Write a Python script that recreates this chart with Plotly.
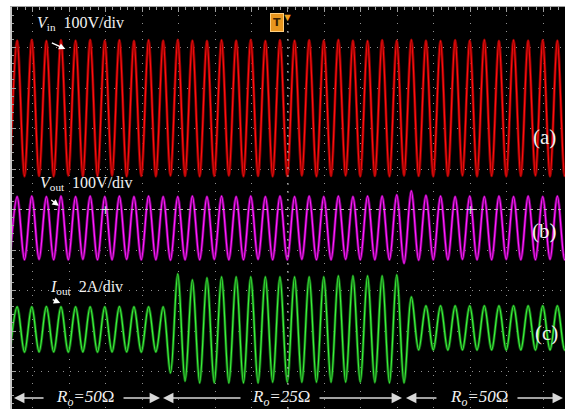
import plotly.graph_objects as go

# ---------------- data ----------------
# time of each waveform extremum, ms (trigger at 0 ms, 50 ms/div)
t_ms = [-381, -371, -361, -351, -341, -331, -321, -311, -301, -291,
        -281, -271, -261, -251, -241, -231, -221, -211, -201, -191,
        -181, -171, -161, -151, -141, -131, -121, -111, -101, -91,
        -81, -71, -61, -51, -41, -31, -21, -11, -1, 9,
        19, 29, 39, 49, 59, 69, 79, 89, 99, 109,
        119, 129, 139, 149, 159, 169, 179, 189, 199, 209,
        219, 229, 239, 249, 259, 269, 279, 289, 299, 309,
        319, 329, 339, 349, 359, 369, 379, 389]

# (a) input voltage, V (100 V/div)
v_in = [-166, 167, -168, 169, -167, 166, -168, 168, -166, 167,
        -168, 169, -167, 167, -166, 168, -168, 166, -167, 168,
        -168, 167, -166, 169, -167, 167, -168, 166, -167, 168,
        -166, 167, -168, 169, -167, 166, -168, 168, -167, 167,
        -166, 168, -168, 167, -167, 169, -166, 167, -168, 166,
        -167, 168, -168, 167, -166, 169, -167, 167, -168, 166,
        -167, 168, -166, 167, -168, 169, -167, 166, -168, 168,
        -167, 167, -166, 168, -168, 167, -167, 168]

# (b) output voltage, V (100 V/div)
v_out = [-79, 77, -79, 78, -78, 77, -79, 78, -79, 77,
         -78, 78, -79, 77, -79, 78, -78, 77, -79, 78,
         -79, 77, -80, 77, -79, 78, -79, 77, -78, 78,
         -79, 77, -79, 78, -78, 77, -79, 78, -79, 77,
         -78, 78, -79, 77, -79, 78, -78, 77, -79, 78,
         -79, 78, -79, 81, -88, 91, -80, 80, -79, 78,
         -79, 77, -78, 78, -79, 77, -79, 78, -78, 77,
         -79, 78, -79, 77, -78, 78, -79, 77]

# (c) output current, A (2 A/div); load steps 50 ohm -> 25 ohm -> 50 ohm
i_out = [-1.11, 1.11, -1.12, 1.11, -1.11, 1.12, -1.11, 1.11, -1.12, 1.11,
         -1.11, 1.11, -1.12, 1.11, -1.11, 1.12, -1.11, 1.11, -1.12, 1.11,
         -1.11, 1.11, -2.15, 2.74, -2.55, 2.44, -2.64, 2.54, -2.64, 2.59,
         -2.64, 2.59, -2.64, 2.59, -2.64, 2.59, -2.60, 2.59, -2.60, 2.59,
         -2.60, 2.59, -2.60, 2.59, -2.60, 2.64, -2.60, 2.64, -2.60, 2.64,
         -2.62, 2.64, -2.64, 2.69, -2.64, 1.60, -1.01, 1.16, -1.01, 1.16,
         -1.02, 1.16, -1.01, 1.16, -1.02, 1.16, -1.01, 1.16, -1.02, 1.16,
         -1.01, 1.16, -1.02, 1.16, -1.01, 1.16, -1.02, 1.16]

# scope settings
ms_per_div = 50
ch_scale = {"in": 100, "out": 100, "i": 2}          # units per division
ch_offset = {"in": 2.5, "out": -0.45, "i": -2.96}   # divisions from centre
screen_t = [-378.1, 379.5]                           # visible time window, ms
screen_div = [-4.926, 5.0]                           # visible vertical window, div

load_labels = ["<i>R<sub>o</sub>=50</i>Ω", "<i>R<sub>o</sub>=25</i>Ω", "<i>R<sub>o</sub>=50</i>Ω"]
load_label_t = [-278, -10, 261]


def ch_range(key):
    return [(screen_div[0] - ch_offset[key]) * ch_scale[key],
            (screen_div[1] - ch_offset[key]) * ch_scale[key]]


fig = go.Figure()

traces = [
    (v_in, "y2", "#8a0000", "#ff1010"),
    (v_out, "y3", "#7a007a", "#ff20ff"),
    (i_out, "y4", "#146814", "#3cf03c"),
]
for vals, ax, dark, bright in traces:
    fig.add_trace(go.Scatter(x=t_ms, y=vals, yaxis=ax, mode="lines",
                             line=dict(color=dark, width=2.8, shape="spline", smoothing=1.0),
                             hoverinfo="skip", showlegend=False))
    fig.add_trace(go.Scatter(x=t_ms, y=vals, yaxis=ax, mode="lines",
                             line=dict(color=bright, width=1.3, shape="spline", smoothing=1.0),
                             hoverinfo="skip", showlegend=False))

serif = "Liberation Serif"
txt = "#f2f2f2"
ann = []

# channel labels
ann += [
    dict(x=-346, y=4.6, text="<i>V</i><sub>in</sub>&nbsp;&nbsp;100V/div", xanchor="left"),
    dict(x=-342, y=0.63, text="<i>V</i><sub>out</sub>&nbsp;&nbsp;100V/div", xanchor="left"),
    dict(x=-329, y=-1.93, text="<i>I</i><sub>out</sub>&nbsp;&nbsp;2A/div", xanchor="left"),
]
ann = [dict(a, xref="x", yref="y", showarrow=False,
            font=dict(family=serif, size=16, color=txt)) for a in ann]

# pointer arrows under channel labels
for x, y, axp, ayp in [(-305, 3.96, -15, -7), (-314, 0.09, -9, -7), (-312, -2.31, -9, -4)]:
    ann.append(dict(x=x, y=y, xref="x", yref="y", ax=axp, ay=ayp, text="",
                    showarrow=True, arrowhead=2, arrowsize=1, arrowwidth=1.3,
                    arrowcolor="#ffffff"))

# (a) (b) (c)
for lab, x, y in [("(a)", 352, 1.79), ("(b)", 352, -0.53), ("(c)", 354, -3.05)]:
    ann.append(dict(x=x, y=y, xref="x", yref="y", text=lab, showarrow=False,
                    font=dict(family=serif, size=21, color=txt)))

# load labels and arrows along bottom
row_y = -4.654
for lab, x in zip(load_labels, load_label_t):
    ann.append(dict(x=x, y=row_y, xref="x", yref="y", text=lab, showarrow=False,
                    font=dict(family=serif, size=17, color=txt)))
for x, axp in [(-375.3, 31), (-175.3, -38), (-171.2, 79), (156.2, -84), (161.6, 32), (376.7, -47)]:
    ann.append(dict(x=x, y=row_y, xref="x", yref="y", ax=axp, ay=0, text="",
                    showarrow=True, arrowhead=2, arrowsize=1.3, arrowwidth=1.6,
                    arrowcolor="#d8d8d8"))

# trigger markers
ann.append(dict(x=0, y=5.0, xref="x", yref="y", text="▼", showarrow=False,
                yanchor="top", font=dict(size=11, color="#f0a020")))
ann.append(dict(x=-15, y=4.62, xref="x", yref="y", text="<b>T</b>", showarrow=False,
                font=dict(size=11, color="#3a2000", family="DejaVu Sans"),
                bgcolor="#e8961e", bordercolor="#ffcf80", borderwidth=1, borderpad=2))
# centre-line graticule crosses
for x in [-250, 250]:
    ann.append(dict(x=x, y=0, xref="x", yref="y", text="+", showarrow=False,
                    font=dict(size=13, color="#e0e0e0", family="DejaVu Sans")))

shapes = [
    dict(type="line", xref="x", yref="y", x0=0, x1=0, y0=screen_div[0], y1=screen_div[1],
         line=dict(color="#b8b8b8", width=1, dash="2px,6px")),
    dict(type="line", xref="x", yref="y", x0=screen_t[0], x1=screen_t[1], y0=0, y1=0,
         line=dict(color="#b8b8b8", width=1, dash="3px,4px")),
]

fig.update_layout(
    width=565, height=409,
    margin=dict(l=12, r=0, t=7, b=0),
    paper_bgcolor="#ffffff", plot_bgcolor="#000000",
    showlegend=False,
    annotations=ann, shapes=shapes,
    xaxis=dict(range=screen_t, side="top", showline=True, linecolor="#a0a0a0", linewidth=1,
               showgrid=True, gridcolor="#909090", gridwidth=1, griddash="1px,7px",
               tick0=0, dtick=ms_per_div, ticks="inside", ticklen=5, tickcolor="#a0a0a0",
               minor=dict(dtick=10, ticks="inside", ticklen=3, tickcolor="#a0a0a0", showgrid=False),
               showticklabels=False, zeroline=False, fixedrange=True),
    yaxis=dict(range=screen_div, showline=True, linecolor="#c8c8c8", linewidth=2,
               showgrid=True, gridcolor="#909090", gridwidth=1, griddash="1px,6.3px",
               tick0=0, dtick=1, ticks="inside", ticklen=4, tickcolor="#a0a0a0",
               minor=dict(dtick=0.2, ticks="inside", ticklen=2, tickcolor="#a0a0a0", showgrid=False),
               showticklabels=False, zeroline=False, fixedrange=True),
    yaxis2=dict(range=ch_range("in"), overlaying="y", visible=False, fixedrange=True),
    yaxis3=dict(range=ch_range("out"), overlaying="y", visible=False, fixedrange=True),
    yaxis4=dict(range=ch_range("i"), overlaying="y", visible=False, fixedrange=True),
)

fig.write_html("out.html", config={"displayModeBar": False},
               post_script="document.body.style.margin='0px';document.body.style.overflow='hidden';")
